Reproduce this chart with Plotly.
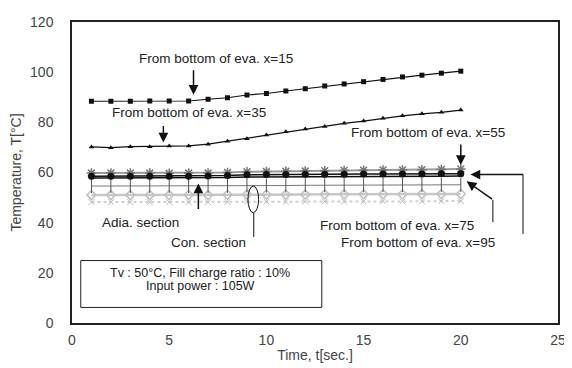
import plotly.graph_objects as go

t = list(range(1, 21))
x15 = [88.4, 88.4, 88.4, 88.5, 88.5, 88.5, 89.2, 89.8, 90.9, 91.5, 92.5, 93.4, 94.5, 95.3, 96.2, 97.1, 98.1, 98.8, 99.6, 100.4]
x35 = [70.2, 69.9, 70.3, 70.3, 70.6, 70.6, 71.3, 72.5, 73.5, 75.0, 76.2, 77.3, 78.3, 79.6, 80.5, 81.6, 82.6, 83.4, 84.0, 84.9]
x55 = [59.8, 59.8, 59.8, 59.8, 59.7, 59.8, 59.8, 60.0, 60.3, 60.4, 60.5, 60.6, 60.7, 60.8, 60.9, 61.0, 61.0, 61.1, 61.2, 61.4]
x75 = [58.5, 58.5, 58.5, 58.5, 58.5, 58.5, 58.6, 58.8, 59.1, 59.2, 59.2, 59.3, 59.3, 59.3, 59.4, 59.4, 59.4, 59.4, 59.5, 59.5]
x95 = [57.8, 57.8, 57.8, 57.8, 57.8, 57.8, 57.9, 58.0, 58.2, 58.2, 58.3, 58.3, 58.3, 58.4, 58.4, 58.4, 58.5, 58.5, 58.5, 58.6]
adia = [54.6, 54.6, 54.6, 54.6, 54.6, 54.6, 54.6, 54.7, 54.8, 54.8, 54.8, 54.9, 54.9, 54.9, 54.9, 55.0, 55.0, 55.0, 55.0, 55.1]
con1 = [51.0, 51.0, 51.0, 51.0, 51.0, 51.0, 51.0, 51.1, 51.2, 51.2, 51.2, 51.2, 51.3, 51.3, 51.3, 51.3, 51.3, 51.4, 51.4, 51.4]
con2 = [48.2, 48.2, 48.2, 48.2, 48.2, 48.2, 48.2, 48.3, 48.4, 48.4, 48.4, 48.4, 48.5, 48.5, 48.5, 48.5, 48.5, 48.5, 48.6, 48.6]

fig = go.Figure()
fig.add_trace(go.Scatter(x=t, y=con2, mode="lines+markers",
                         line=dict(color="#cfcfcf", width=2, dash="dot"),
                         marker=dict(symbol="x-thin-open", size=6, color="#bbbbbb", line=dict(width=1, color="#bbbbbb"))))
fig.add_trace(go.Scatter(x=t, y=con1, mode="lines+markers",
                         line=dict(color="#c8c8c8", width=2.5),
                         marker=dict(symbol="diamond-open", size=7, color="#c0c0c0", line=dict(width=1.5, color="#c0c0c0"))))
fig.add_trace(go.Scatter(x=t, y=adia, mode="lines+markers",
                         line=dict(color="#555555", width=0.8),
                         marker=dict(symbol="line-ns-open", size=10, color="#555555", line=dict(width=1, color="#555555"))))
fig.add_trace(go.Scatter(x=t, y=x55, mode="lines+markers",
                         line=dict(color="#9a9a9a", width=2),
                         marker=dict(symbol="asterisk-open", size=8, color="#777777", line=dict(width=1.5, color="#777777"))))
fig.add_trace(go.Scatter(x=t, y=x95, mode="lines",
                         line=dict(color="#111111", width=1.5)))
fig.add_trace(go.Scatter(x=t, y=x75, mode="lines+markers",
                         line=dict(color="#111111", width=1.5),
                         marker=dict(symbol="circle", size=7, color="#111111")))
fig.add_trace(go.Scatter(x=t, y=x35, mode="lines+markers",
                         line=dict(color="#111111", width=1.2),
                         marker=dict(symbol="triangle-up", size=5, color="#111111")))
fig.add_trace(go.Scatter(x=t, y=x15, mode="lines+markers",
                         line=dict(color="#111111", width=1.2),
                         marker=dict(symbol="square", size=5, color="#111111")))

ff = "Arial, Liberation Sans, sans-serif"
afont = dict(family=ff, size=13.5, color="#222222")
bfont = dict(family=ff, size=12.5, color="#222222")
texts = [
    ("From bottom of eva. x=15", 7.4, 105.5, afont),
    ("From bottom of eva. x=35", 6.0, 83.8, afont),
    ("From bottom of eva. x=55", 18.3, 76.0, afont),
    ("From bottom of eva. x=75", 16.7, 39.0, afont),
    ("From bottom of eva. x=95", 17.8, 32.0, afont),
    ("Adia. section", 3.5, 40.2, afont),
    ("Con. section", 7.0, 32.0, afont),
    ("Tv : 50°C, Fill charge ratio : 10%", 6.6, 20.0, bfont),
    ("Input power : 105W", 6.6, 14.6, bfont),
]
for txt, xx, yy, fnt in texts:
    fig.add_annotation(x=xx, y=yy, text=txt, showarrow=False, font=fnt,
                       xanchor="center", yanchor="middle")

arrows = [
    (6.25, 91.0, 0, -26),
    (4.7, 72.0, 0, -18),
    (20.0, 63.0, 0, -22),
    (20.5, 59.2, 54, 0),
    (20.3, 56.5, 27, 19),
    (6.5, 55.6, 0, 27),
]
for xx, yy, ax, ay in arrows:
    fig.add_annotation(x=xx, y=yy, ax=ax, ay=ay, text="", showarrow=True,
                       arrowhead=2, arrowsize=1.3, arrowwidth=1.5, arrowcolor="#111111")

lc = dict(color="#111111", width=1)
fig.add_shape(type="line", x0=23.2, x1=23.2, y0=59.2, y1=35.5, line=lc)
fig.add_shape(type="line", x0=21.65, x1=21.65, y0=49.1, y1=40.2, line=lc)
fig.add_shape(type="circle", x0=9.05, x1=9.6, y0=44.0, y1=54.6, line=lc)
fig.add_shape(type="line", x0=9.35, x1=9.35, y0=44.0, y1=34.3, line=lc)
fig.add_shape(type="rect", x0=0.45, x1=12.85, y0=6.2, y1=24.9, line=dict(color="#222222", width=1))

tfont = dict(family=ff, size=14, color="#444444")
fig.update_layout(
    width=564, height=360,
    margin=dict(l=58, r=6, t=7, b=45),
    paper_bgcolor="white", plot_bgcolor="white",
    showlegend=False,
    font=tfont,
)
fig.update_xaxes(range=[0, 25], dtick=5, showgrid=False, zeroline=False,
                 showline=True, mirror=True, linecolor="#222222", linewidth=1.5,
                 ticks="", tickfont=tfont, ticklabelstandoff=3,
                 ticklabeloverflow="allow",
                 title=dict(text="Time, t[sec.]", font=tfont, standoff=4))
fig.update_yaxes(range=[0, 120], dtick=20, showgrid=False, zeroline=False,
                 showline=True, mirror=True, linecolor="#222222", linewidth=1.5,
                 ticks="", tickfont=tfont, ticklabelstandoff=14,
                 ticklabeloverflow="allow",
                 title=dict(text="Temperature, T[°C]", font=tfont, standoff=6))

fig.write_html("out.html")
